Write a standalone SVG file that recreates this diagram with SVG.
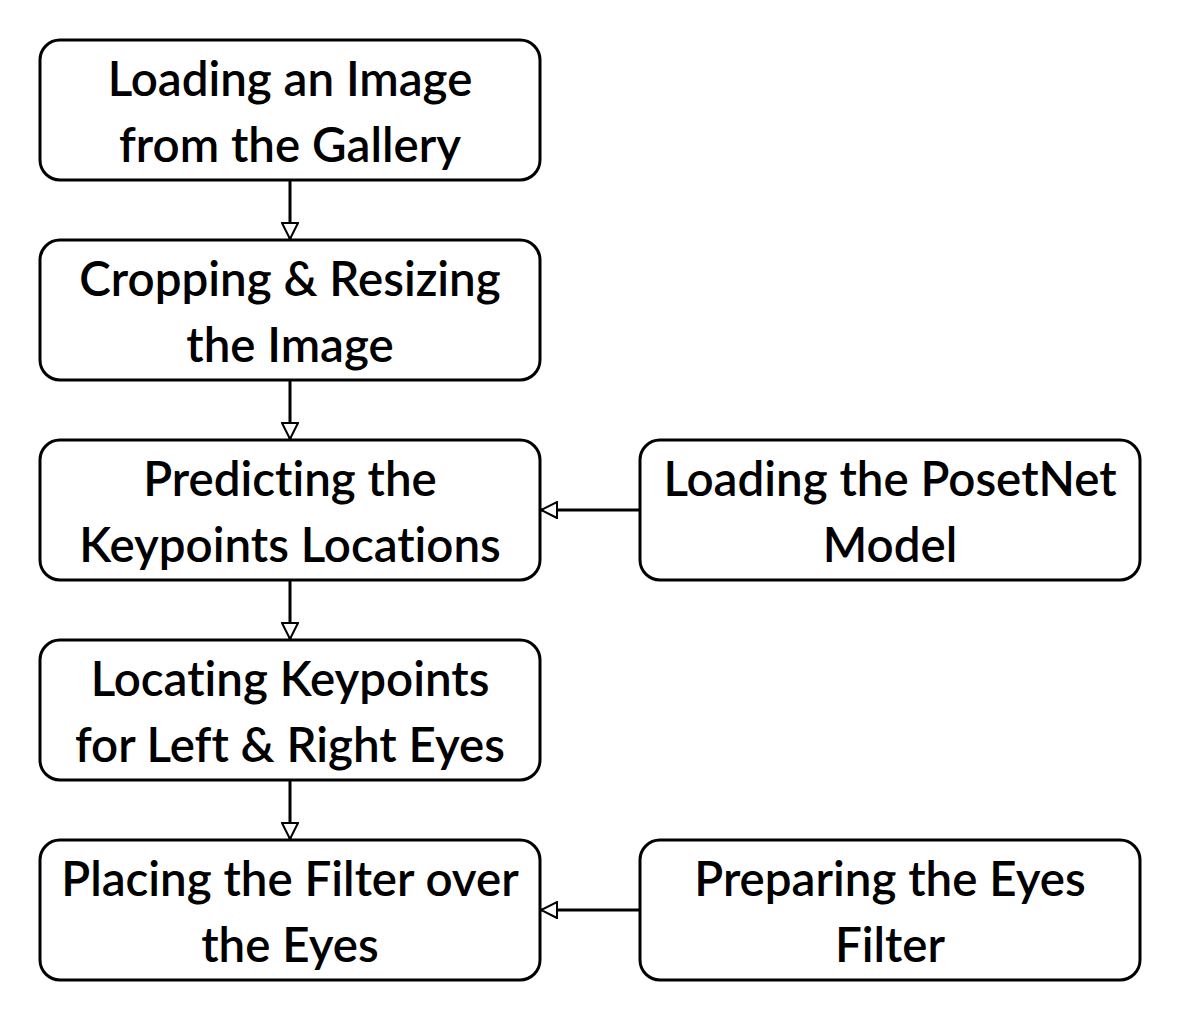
<svg xmlns="http://www.w3.org/2000/svg" width="1180" height="1020" viewBox="0 0 1180 1020">
<style>
.box{fill:#fff;stroke:#000;stroke-width:3}
.t{font-family:Lato,"Liberation Sans",sans-serif;font-size:47.5px;font-weight:600;font-variant-ligatures:none;fill:#000;text-anchor:middle}
.edge{stroke:#000;stroke-width:3;fill:none}
</style>
<defs>
<marker id="ah" viewBox="0 0 18 18" refX="17" refY="9" markerWidth="18" markerHeight="18" markerUnits="userSpaceOnUse" orient="auto">
<path d="M1,1 L17,9 L1,17 Z" fill="#fff" stroke="#000" stroke-width="2"/>
</marker>
</defs>
<rect width="1180" height="1020" fill="#fff"/>
<g id="connectors">
<path class="edge" d="M290,180 V239" marker-end="url(#ah)"/>
<path class="edge" d="M290,380 V439" marker-end="url(#ah)"/>
<path class="edge" d="M290,580 V639" marker-end="url(#ah)"/>
<path class="edge" d="M290,780 V839" marker-end="url(#ah)"/>
<path class="edge" d="M640,510 H541" marker-end="url(#ah)"/>
<path class="edge" d="M640,910 H541" marker-end="url(#ah)"/>
</g>
<g id="n1"><rect class="box" x="40" y="40" width="500" height="140" rx="20"/><text class="t" x="290" y="96">Loading an Image</text><text class="t" x="290" y="162">from the Gallery</text></g>
<g id="n2"><rect class="box" x="40" y="240" width="500" height="140" rx="20"/><text class="t" x="290" y="296">Cropping &amp; Resizing</text><text class="t" x="290" y="362">the Image</text></g>
<g id="n3"><rect class="box" x="40" y="440" width="500" height="140" rx="20"/><text class="t" x="290" y="496">Predicting the</text><text class="t" x="290" y="562">Keypoints Locations</text></g>
<g id="n4"><rect class="box" x="640" y="440" width="500" height="140" rx="20"/><text class="t" x="890" y="496">Loading the PosetNet</text><text class="t" x="890" y="562">Model</text></g>
<g id="n5"><rect class="box" x="40" y="640" width="500" height="140" rx="20"/><text class="t" x="290" y="696">Locating Keypoints</text><text class="t" x="290" y="762">for Left &amp; Right Eyes</text></g>
<g id="n6"><rect class="box" x="40" y="840" width="500" height="140" rx="20"/><text class="t" x="290" y="896">Placing the Filter over</text><text class="t" x="290" y="962">the Eyes</text></g>
<g id="n7"><rect class="box" x="640" y="840" width="500" height="140" rx="20"/><text class="t" x="890" y="896">Preparing the Eyes</text><text class="t" x="890" y="962">Filter</text></g>
</svg>
